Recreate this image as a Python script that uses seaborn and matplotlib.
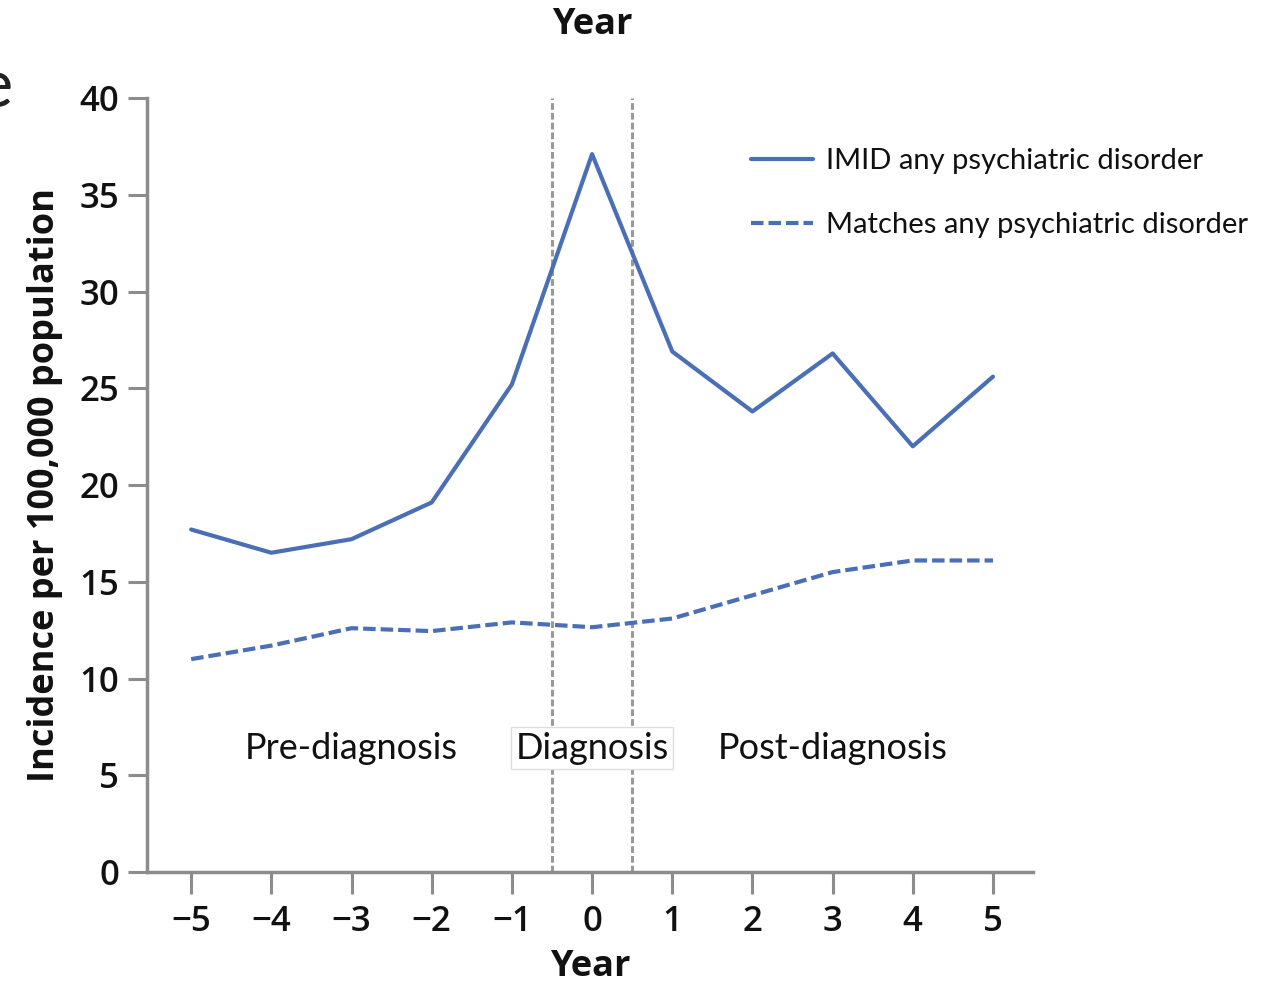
import numpy as np
import pandas as pd
import matplotlib
matplotlib.use("Agg")
import matplotlib.pyplot as plt
import seaborn as sns
from matplotlib.lines import Line2D

years = [-5, -4, -3, -2, -1, 0, 1, 2, 3, 4, 5]
imid = [17.7, 16.5, 17.2, 19.1, 25.2, 37.1, 26.9, 23.8, 26.8, 22.0, 25.6]
matches = [11.0, 11.7, 12.6, 12.45, 12.9, 12.65, 13.1, 14.3, 15.5, 16.1, 16.1]
series_names = ["IMID any psychiatric disorder", "Matches any psychiatric disorder"]
yticks = [0, 5, 10, 15, 20, 25, 30, 35, 40]
period_labels = ["Pre-diagnosis", "Diagnosis", "Post-diagnosis"]
period_x = [-3.0, 0.0, 3.0]
period_y = 6.4

df = pd.DataFrame({
    "Year": years * 2,
    "Incidence": imid + matches,
    "Group": [series_names[0]] * len(years) + [series_names[1]] * len(years),
})

sns.set_theme(style="white")
plt.rcParams["font.family"] = ["Lato", "DejaVu Sans"]

fig = plt.figure(figsize=(12.71, 9.89), dpi=100)
ax = fig.add_axes([0.1157, 0.1183, 0.8128 - 0.1157, 0.9009 - 0.1183])

line_color = "#4a6fb6"
dash = (3.0, 1.2)
sns.lineplot(data=df, x="Year", y="Incidence", style="Group",
             hue="Group", palette=[line_color, line_color],
             dashes={series_names[0]: "", series_names[1]: dash},
             linewidth=3.0, ax=ax, legend=False)

# vertical dotted lines
for xv in (-0.5, 0.5):
    ax.axvline(xv, color="#999999", linestyle=(0, (2.2, 1.0)), linewidth=2.2, zorder=1)

ax.set_xlim(-5.55, 5.5)
ax.set_ylim(0, 40)
ax.set_yticks(yticks)
ax.set_xticks(years)
ax.set_xticklabels([("\u2212" + str(-y)) if y < 0 else str(y) for y in years])

for s in ("top", "right"):
    ax.spines[s].set_visible(False)
for s in ("left", "bottom"):
    ax.spines[s].set_color("#8c8c8c")
    ax.spines[s].set_linewidth(2.5)

ax.tick_params(axis="both", which="both", direction="out", width=2.2,
               color="#8c8c8c", labelsize=25, labelcolor="#111111",
               left=True, bottom=True)
ax.tick_params(axis="x", length=16, pad=8)
ax.tick_params(axis="y", length=14, pad=6)
for lbl in ax.get_xticklabels() + ax.get_yticklabels():
    lbl.set_family(["Open Sans", "DejaVu Sans"])
    lbl.set_fontweight("semibold")

ax.set_xlabel("Year", fontsize=26, fontweight="bold", labelpad=7,
              family=["Open Sans", "DejaVu Sans"], color="#111111")
ax.set_ylabel("Incidence per 100,000 population", fontsize=26, fontweight="bold",
              labelpad=12, family=["Open Sans", "DejaVu Sans"], color="#111111")

fig.text(592 / 1271, 1 - 25 / 989, "Year", ha="center", va="center", fontsize=26,
         fontweight="bold", family=["Open Sans", "DejaVu Sans"], color="#111111")

# period labels
for i, (lab, xp) in enumerate(zip(period_labels, period_x)):
    kw = {}
    if i == 1:
        kw["bbox"] = dict(boxstyle="square,pad=0.12", facecolor="white",
                          edgecolor="#dddddd", linewidth=1.0)
    ax.text(xp, period_y, lab, ha="center", va="center", fontsize=26,
            color="#111111", zorder=5, **kw)

# legend
handles = [Line2D([0], [0], color=line_color, lw=3.0),
           Line2D([0], [0], color=line_color, lw=3.0, linestyle=(0, dash))]
leg = fig.legend(handles, series_names, loc="upper left",
                 bbox_to_anchor=(0.582, 0.862), frameon=False, fontsize=21,
                 handlelength=2.1, handletextpad=0.45, labelspacing=1.3,
                 borderaxespad=0)
for t in leg.get_texts():
    t.set_color("#111111")

# clipped partial text at left edge (as in the source image)
fig.text(-0.018, 1 - 88 / 989, "e", ha="left", va="center", fontsize=48,
         color="#222222")

fig.savefig("out.png", dpi=100)
